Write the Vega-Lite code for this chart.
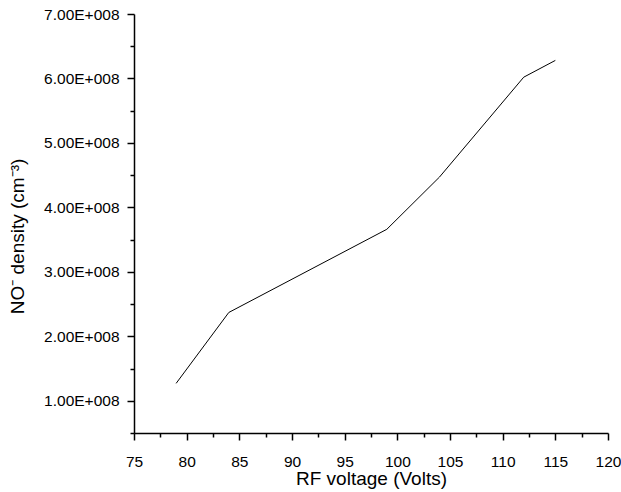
{
  "$schema": "https://vega.github.io/schema/vega-lite/v6.json",
  "width": 474,
  "height": 419,
  "autosize": {"type": "none"},
  "padding": {"left": 134, "top": 14, "right": 13, "bottom": 59},
  "background": "white",
  "config": {
    "font": "Liberation Sans",
    "view": {"stroke": null},
    "axis": {
      "grid": false,
      "domainColor": "black",
      "domainWidth": 1.5,
      "tickColor": "black",
      "tickWidth": 1.5,
      "labelColor": "black",
      "titleColor": "black",
      "labelFontSize": 15.5,
      "labelOverlap": false,
      "labelFlush": false,
      "labelBound": false,
      "titleFontWeight": "normal"
    }
  },
  "data": {
    "values": [
      {"voltage": 79, "density": 127000000},
      {"voltage": 84, "density": 237000000},
      {"voltage": 99, "density": 366000000},
      {"voltage": 104, "density": 447000000},
      {"voltage": 112, "density": 602000000},
      {"voltage": 115, "density": 628000000}
    ]
  },
  "mark": {"type": "line", "color": "black", "strokeWidth": 1},
  "encoding": {
    "x": {
      "field": "voltage",
      "type": "quantitative",
      "scale": {"domain": [75, 120], "nice": false, "zero": false},
      "axis": {
        "title": "RF voltage (Volts)",
        "titleFontSize": 19,
        "titlePadding": 0,
        "values": [75, 77.5, 80, 82.5, 85, 87.5, 90, 92.5, 95, 97.5, 100, 102.5, 105, 107.5, 110, 112.5, 115, 117.5, 120],
        "labelExpr": "datum.value % 5 === 0 ? datum.label : ''",
        "labelPadding": 14,
        "tickSize": {"condition": {"test": "datum.value % 5 === 0", "value": 7}, "value": 4}
      }
    },
    "y": {
      "field": "density",
      "type": "quantitative",
      "scale": {"domain": [50000000, 700000000], "nice": false, "zero": false},
      "axis": {
        "title": "NO⁻ density (cm⁻³)",
        "titleFontSize": 19,
        "titlePadding": 16,
        "titleY": 222,
        "values": [50000000, 100000000, 150000000, 200000000, 250000000, 300000000, 350000000, 400000000, 450000000, 500000000, 550000000, 600000000, 650000000, 700000000],
        "labelExpr": "datum.value % 100000000 === 0 ? format(datum.value / 100000000, '.2f') + 'E+008' : ''",
        "labelPadding": 8,
        "tickSize": {"condition": {"test": "datum.value % 100000000 === 0", "value": 7}, "value": 4}
      }
    }
  }
}
